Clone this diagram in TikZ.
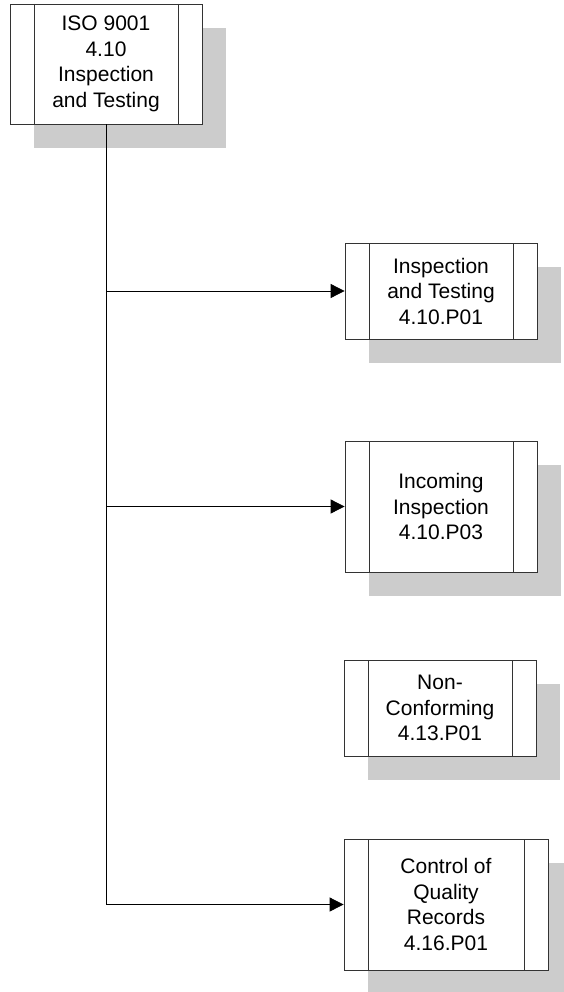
\documentclass[tikz,border=0pt]{standalone}
\usepackage{fontspec}
\setmainfont{Liberation Sans}
\usetikzlibrary{arrows.meta,shadows}
\definecolor{shadowc}{gray}{0.8}
\definecolor{edgec}{gray}{0.2}
\tikzset{
  procbox/.style={draw=edgec, line width=0.8pt, fill=white, inner sep=0pt,
    align=center, text=black,
    font=\fontsize{21}{25.5}\selectfont,
    drop shadow={shadow xshift=24pt, shadow yshift=-24pt, fill=shadowc, opacity=1, draw=none},
    path picture={
      \draw[edgec, line width=0.8pt]
        ([xshift=24pt]path picture bounding box.north west) --
        ([xshift=24pt]path picture bounding box.south west);
      \draw[edgec, line width=0.8pt]
        ([xshift=-24pt]path picture bounding box.north east) --
        ([xshift=-24pt]path picture bounding box.south east);
    }},
  conn/.style={draw=black, line width=0.8pt},
  arr/.style={conn, -{Triangle[length=14pt, width=14pt]}}
}
\begin{document}
\begin{tikzpicture}[x=1pt, y=-1pt]
\useasboundingbox (0,0) rectangle (563,992);
\node[procbox, minimum width=192pt, minimum height=120pt] (top) at (106,64)
  {ISO 9001\\4.10\\Inspection\\and Testing};
\node[procbox, minimum width=192pt, minimum height=96pt] (p1) at (441,291)
  {Inspection\\and Testing\\4.10.P01};
\node[procbox, minimum width=192pt, minimum height=131pt] (p3) at (441,506.5)
  {Incoming\\Inspection\\4.10.P03};
\node[procbox, minimum width=192pt, minimum height=96pt] (nc) at (440,708)
  {Non-\\Conforming\\4.13.P01};
\node[procbox, minimum width=204pt, minimum height=131pt] (cq) at (446,904.5)
  {Control of\\Quality\\Records\\4.16.P01};
\draw[arr] (top.south) |- (cq.west);
\draw[arr] (top.south |- p1.west) -- (p1.west);
\draw[arr] (top.south |- p3.west) -- (p3.west);
\end{tikzpicture}
\end{document}
